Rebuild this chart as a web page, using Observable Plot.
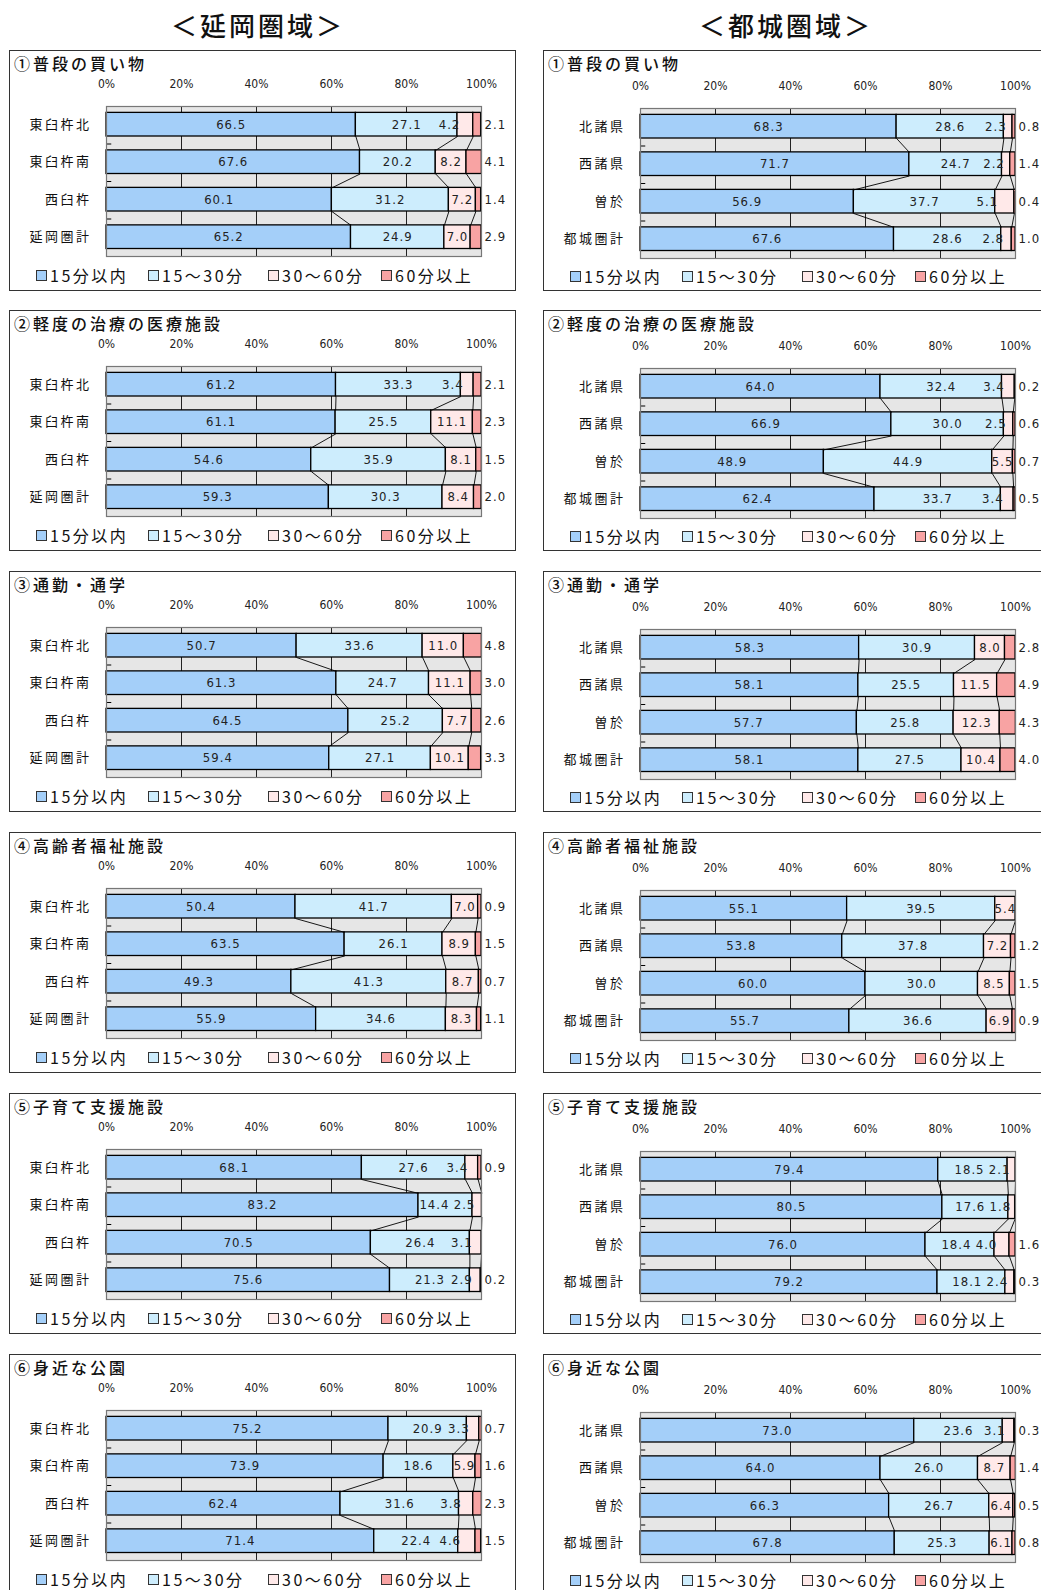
<!DOCTYPE html>
<html lang="ja">
<head>
<meta charset="utf-8">
<script src="https://cdn.jsdelivr.net/npm/d3@7"></script>
<script src="https://cdn.jsdelivr.net/npm/@observablehq/plot@0.6"></script>
<style>
  html, body { margin:0; padding:0; background:#fff; }
  body { width:1041px; height:1590px; overflow:hidden; position:relative; font-family:"Noto Sans CJK JP", sans-serif; color:#111; }
  .heading { position:absolute; top:6px; font-size:26px; letter-spacing:3px; text-align:center; font-weight:500; }
  .panel { position:absolute; width:507px; height:241px; border:1px solid #333; box-sizing:border-box; background:#fff; }
  .panel .title { position:absolute; left:4px; top:0px; font-size:16px; letter-spacing:3px; font-weight:500; white-space:nowrap; }
  .panel svg { position:absolute; left:0; }
  .legend { position:absolute; left:0; width:100%; height:18px; }
  .legend .item { position:absolute; top:0; font-size:16px; letter-spacing:2.5px; white-space:nowrap; line-height:18px; }
  .legend .sw { display:inline-block; width:9px; height:9px; border:1px solid #333; margin-right:3px; vertical-align:1px; }
  g[aria-description="cats"] text { letter-spacing:2.5px; }
  g[aria-description="vals"] text { letter-spacing:1px; }
</style>
</head>
<body>
<script>
// ---- data ----
const levels = ["15分以内", "15～30分", "30～60分", "60分以上"];
const levelColors = ["#a4cff9", "#cdedfd", "#ffe9e9", "#f8a3a3"];
const regionTitles = ["＜延岡圏域＞", "＜都城圏域＞"];
const nobeokaAreas = ["東臼杵北", "東臼杵南", "西臼杵", "延岡圏計"];
const miyakonojoAreas = ["北諸県", "西諸県", "曽於", "都城圏計"];
const topics = ["①普段の買い物", "②軽度の治療の医療施設", "③通勤・通学", "④高齢者福祉施設", "⑤子育て支援施設", "⑥身近な公園"];
const tickValues = [0, 20, 40, 60, 80, 100];

const nobeokaShopping   = [[66.5,27.1,4.2,2.1],[67.6,20.2,8.2,4.1],[60.1,31.2,7.2,1.4],[65.2,24.9,7.0,2.9]];
const miyakonojoShopping= [[68.3,28.6,2.3,0.8],[71.7,24.7,2.2,1.4],[56.9,37.7,5.1,0.4],[67.6,28.6,2.8,1.0]];
const nobeokaClinic     = [[61.2,33.3,3.4,2.1],[61.1,25.5,11.1,2.3],[54.6,35.9,8.1,1.5],[59.3,30.3,8.4,2.0]];
const miyakonojoClinic  = [[64.0,32.4,3.4,0.2],[66.9,30.0,2.5,0.6],[48.9,44.9,5.5,0.7],[62.4,33.7,3.4,0.5]];
const nobeokaCommute    = [[50.7,33.6,11.0,4.8],[61.3,24.7,11.1,3.0],[64.5,25.2,7.7,2.6],[59.4,27.1,10.1,3.3]];
const miyakonojoCommute = [[58.3,30.9,8.0,2.8],[58.1,25.5,11.5,4.9],[57.7,25.8,12.3,4.3],[58.1,27.5,10.4,4.0]];
const nobeokaElderly    = [[50.4,41.7,7.0,0.9],[63.5,26.1,8.9,1.5],[49.3,41.3,8.7,0.7],[55.9,34.6,8.3,1.1]];
const miyakonojoElderly = [[55.1,39.5,5.4,0],[53.8,37.8,7.2,1.2],[60.0,30.0,8.5,1.5],[55.7,36.6,6.9,0.9]];
const nobeokaChildcare  = [[68.1,27.6,3.4,0.9],[83.2,14.4,2.5,0],[70.5,26.4,3.1,0],[75.6,21.3,2.9,0.2]];
const miyakonojoChildcare=[[79.4,18.5,2.1,0],[80.5,17.6,1.8,0],[76.0,18.4,4.0,1.6],[79.2,18.1,2.4,0.3]];
const nobeokaPark       = [[75.2,20.9,3.3,0.7],[73.9,18.6,5.9,1.6],[62.4,31.6,3.8,2.3],[71.4,22.4,4.6,1.5]];
const miyakonojoPark    = [[73.0,23.6,3.1,0.3],[64.0,26.0,8.7,1.4],[66.3,26.7,6.4,0.5],[67.8,25.3,6.1,0.8]];

const nobeokaSets = [nobeokaShopping, nobeokaClinic, nobeokaCommute, nobeokaElderly, nobeokaChildcare, nobeokaPark];
const miyakonojoSets = [miyakonojoShopping, miyakonojoClinic, miyakonojoCommute, miyakonojoElderly, miyakonojoChildcare, miyakonojoPark];

// ---- layout ----
const colLeft = [9, 543];
const rowTop = [50, 310, 571, 832, 1093, 1354];
const BAR_TOP = 0.17, BAR_BOT = 0.8;
const numFont = "'Liberation Sans Narrow', 'DejaVu Sans Condensed', sans-serif";
const cjkFont = "'Noto Sans CJK JP', sans-serif";
const PLOT_W = 505, M_LEFT = 96, M_RIGHT = 34;
const PX = (PLOT_W - M_LEFT - M_RIGHT) / 100;   // pixels per percent
const CHAR_W = 6.6;                               // approx label char width
const NARROW_DX = -8;
const LABEL_GAP = 7;

function makePlot(areas, values) {
  const segs = [];
  const cum = [];
  areas.forEach((a, i) => {
    let c = 0; cum[i] = [];
    levels.forEach((lv, k) => {
      const v = values[i][k];
      segs.push({area: a, i, k, level: lv, v, x1: c, x2: c + v, label: v.toFixed(1)});
      c += v; cum[i][k] = c;
    });
  });
  segs.forEach(d => {
    d.narrow = d.k === 2 && d.v < 5.3;
    d.lx = d.narrow ? d.x1 + NARROW_DX / PX : (d.x1 + d.x2) / 2;
  });
  // keep the 15～30 label clear of a narrow 30～60 label
  areas.forEach((a, i) => {
    const mid = segs.find(d => d.i === i && d.k === 1);
    const nar = segs.find(d => d.i === i && d.k === 2);
    if (nar.narrow) {
      const narLeft = nar.lx * PX - nar.label.length * CHAR_W / 2;
      const midRight = mid.lx * PX + mid.label.length * CHAR_W / 2;
      if (midRight > narLeft - LABEL_GAP) mid.lx -= (midRight - narLeft + LABEL_GAP) / PX;
    }
  });
  const links = [];
  for (let i = 0; i < areas.length - 1; i++)
    for (let k = 0; k < 3; k++) links.push({i, x1: cum[i][k], x2: cum[i + 1][k]});
  const inner = segs.filter(d => d.k < 3);
  const outer = segs.filter(d => d.k === 3 && d.v > 0);
  const yMid = d => d.i + (BAR_TOP + BAR_BOT) / 2;
  return Plot.plot({
    width: PLOT_W, height: 222,
    marginLeft: M_LEFT, marginRight: M_RIGHT, marginTop: 57, marginBottom: 15,
    style: {fontFamily: "'Liberation Sans Narrow', 'DejaVu Sans Condensed', sans-serif", fontSize: "12px", color: "#222", background: "transparent", overflow: "visible"},
    x: {domain: [0, 100], axis: "top", ticks: tickValues, tickFormat: d => d + "%", tickSize: 0, tickPadding: 19, label: null},
    y: {domain: [0, areas.length], reverse: true, axis: null},
    color: {domain: levels, range: levelColors},
    marks: [
      Plot.frame({fill: "#e6e6e6", stroke: null}),
      Plot.ruleX([20, 40, 60, 80], {stroke: "#222", strokeWidth: 1}),
      Plot.rect(segs, {x1: "x1", x2: "x2", y1: d => d.i + BAR_TOP, y2: d => d.i + BAR_BOT, fill: "level", stroke: "#000", strokeWidth: 1.3}),
      Plot.link(links, {x1: "x1", x2: "x2", y1: d => d.i + BAR_BOT, y2: d => d.i + 1 + BAR_TOP, stroke: "#000", strokeWidth: 0.9}),
      Plot.ruleY(d3.range(1, areas.length + 1), {x1: 0, x2: 1.4, stroke: "#000"}),
      Plot.frame({stroke: "#777", strokeWidth: 1.2}),
      Plot.text(inner, {x: "lx", y: yMid, text: "label", fontFamily: numFont, fontSize: 13, fill: "#222", ariaDescription: "vals"}),
      Plot.text(outer, {x: 100, y: yMid, text: "label", textAnchor: "start", dx: 3, fontFamily: numFont, fontSize: 13, fill: "#222", ariaDescription: "vals"}),
      Plot.text(areas, {x: 0, y: (d, i) => i + (BAR_TOP + BAR_BOT) / 2, text: d => d, textAnchor: "end", dx: -15, fontFamily: cjkFont, fontSize: 13, fill: "#111", ariaDescription: "cats"})
    ]
  });
}

function el(tag, cls, text) {
  const e = document.createElement(tag);
  if (cls) e.className = cls;
  if (text != null) e.textContent = text;
  return e;
}

// headings
const h1 = el("div", "heading", regionTitles[0]); h1.style.left = "0px"; h1.style.width = "516px";
const h2 = el("div", "heading", regionTitles[1]); h2.style.left = "531px"; h2.style.width = "510px";
document.body.append(h1, h2);

const legendX = [26, 138, 258, 371];
[ [nobeokaAreas, nobeokaSets], [miyakonojoAreas, miyakonojoSets] ].forEach(([areas, sets], c) => {
  sets.forEach((values, r) => {
    const p = el("div", "panel");
    p.style.left = colLeft[c] + "px";
    p.style.top = rowTop[r] + "px";
    p.append(el("div", "title", topics[r]));
    const svg = makePlot(areas, values);
    svg.style.top = (c === 1 ? 0 : -2) + "px";
    p.append(svg);
    const lg = el("div", "legend");
    lg.style.top = (215 + (c === 1 ? 1 : 0)) + "px";
    levels.forEach((lv, k) => {
      const it = el("div", "item");
      it.style.left = legendX[k] + "px";
      const sw = el("span", "sw"); sw.style.background = levelColors[k];
      it.append(sw, document.createTextNode(lv));
      lg.append(it);
    });
    p.append(lg);
    document.body.append(p);
  });
});
</script>
</body>
</html>
